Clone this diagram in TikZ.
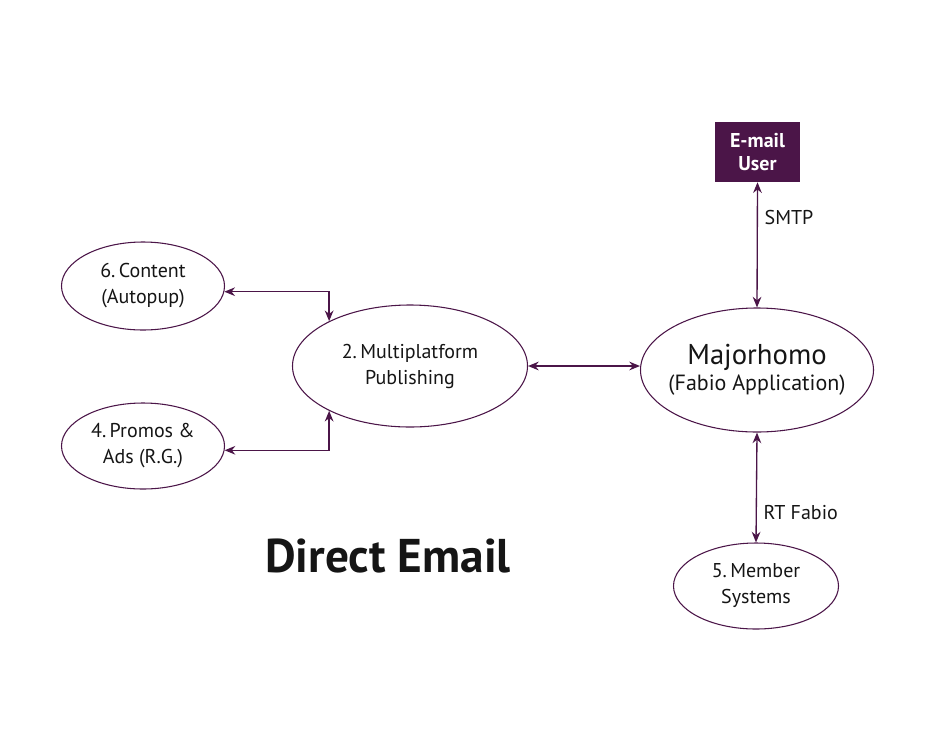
\documentclass[tikz,border=0pt]{standalone}
\usepackage{fontspec}
\setmainfont{PT Sans}
\usetikzlibrary{shapes.geometric,arrows.meta}
\definecolor{viola}{HTML}{4B1548}
\definecolor{nero}{HTML}{151515}

\begin{document}
\begin{tikzpicture}[x=0.75pt,y=-0.75pt,
        ovale/.style={ellipse, draw=viola, line width=0.8pt, align=center, inner sep=0pt,
            font=\fontsize{15}{19.5}\selectfont, text=nero},
        freccia/.style={{Stealth[length=8pt,width=6.5pt]}-{Stealth[length=8pt,width=6.5pt]},
            draw=viola, line width=1pt},
        etichetta/.style={font=\fontsize{15}{18}\selectfont, text=nero, inner sep=2pt}]
        \useasboundingbox (0,0) rectangle (952,732);
        % Utente e-mail (riquadro pieno)
        \node[fill=viola, text=white, align=center, minimum width=63.75pt, minimum height=45pt,
            font=\fontsize{15}{17}\bfseries\selectfont] (utente) at (757.5,152) {E-mail\\User};
        % Ellissi
        \node[ovale, inner xsep=-20pt, minimum width=174.75pt, minimum height=93pt] (majo) at (757,370)
        {{\fontsize{21.5}{22}\selectfont Majorhomo}\\{\fontsize{16.5}{19.5}\selectfont(Fabio Application)}};
        \node[ovale, minimum width=176.25pt, minimum height=91.5pt] (pub) at (410,366)
        {2.\,Multiplatform\\Publishing};
        \node[ovale, minimum width=122.25pt, minimum height=66pt] (contenuto) at (143,286)
        {6.\,Content\\(Autopup)};
        \node[ovale, minimum width=122.25pt, minimum height=64.5pt] (promo) at (143,446)
        {4.\,Promos \&\\Ads (R.G.)};
        \node[ovale, minimum width=123.75pt, minimum height=64.5pt] (membri) at (756,586)
        {5.\,Member\\Systems};
        % Titolo
        \node[font=\fontsize{35.5}{38}\bfseries\selectfont, text=nero] (titolo) at (388,556) {Direct Email};
        % Collegamenti
        \draw[freccia] (utente.south) -- (majo.north)
        node[etichetta, pos=0.28, right=3pt] {SMTP};
        \draw[freccia] (pub.east) -- (majo.west |- pub.east);
        \draw[freccia] (majo.south) -- (membri.north)
        node[etichetta, pos=0.73, right=3pt] {RT Fabio};
        \draw[freccia] (pub.151) |- (contenuto.-4);
        \draw[freccia] (pub.209) |- (promo.-3);
    \end{tikzpicture}
\end{document}
